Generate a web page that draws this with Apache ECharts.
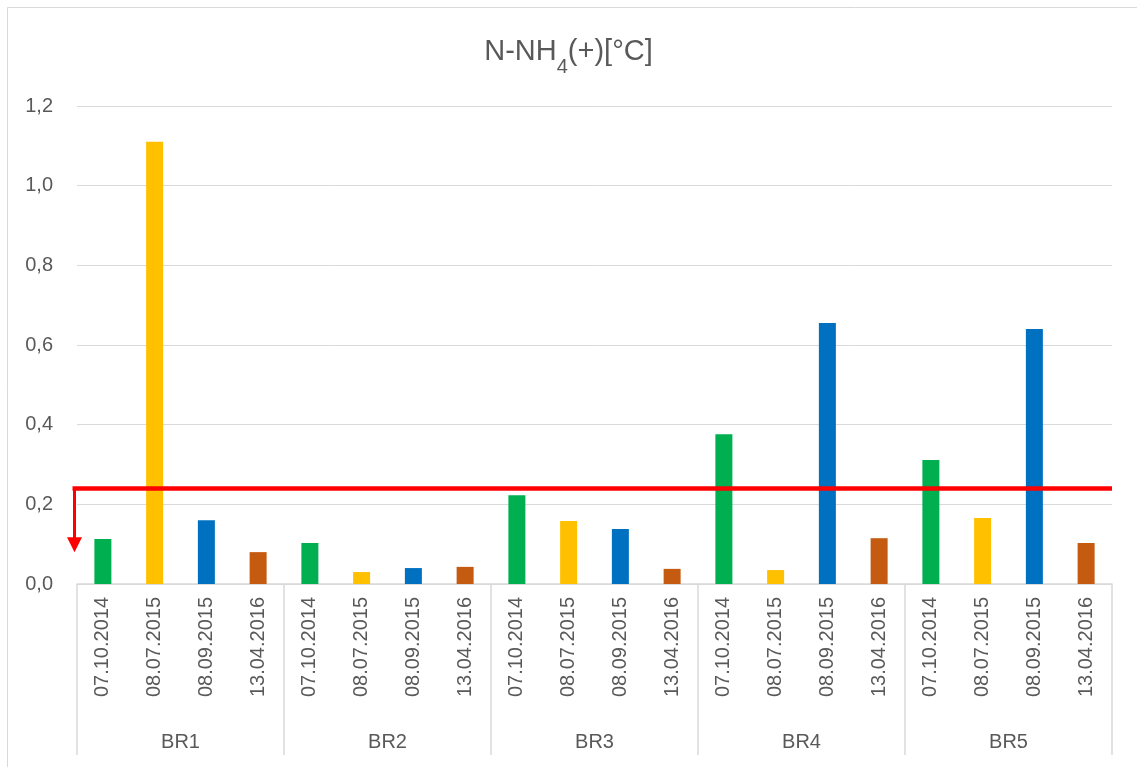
<!DOCTYPE html>
<html>
<head>
<meta charset="utf-8">
<script src="https://cdn.jsdelivr.net/npm/echarts@6/dist/echarts.min.js"></script>
<style>html,body{margin:0;padding:0;background:#fff}#c{width:1137px;height:767px}</style>
</head>
<body>
<div id="c"></div>
<script>
const groups = ['BR1', 'BR2', 'BR3', 'BR4', 'BR5'];
const dates = ['07.10.2014', '08.07.2015', '08.09.2015', '13.04.2016'];
const v20141007 = [0.113, 0.103, 0.223, 0.376, 0.311];
const v20150708 = [1.110, 0.030, 0.158, 0.035, 0.166];
const v20150908 = [0.160, 0.040, 0.138, 0.655, 0.640];
const v20160413 = [0.080, 0.043, 0.038, 0.115, 0.103];
const dateColors = ['#00B050', '#FFC000', '#0070C0', '#C55A11'];
const yTicks = [0, 0.2, 0.4, 0.6, 0.8, 1.0, 1.2];
const limitValue = 0.24;
const arrowTipValue = 0.08;

const seriesValues = [v20141007, v20150708, v20150908, v20160413];
const cats = [];
groups.forEach(g => dates.forEach(d => cats.push(d)));

const barSeries = seriesValues.map((vals, di) => {
  const data = [];
  groups.forEach((g, gi) => dates.forEach((d, dj) => data.push(dj === di ? vals[gi] : '-')));
  return {
    type: 'bar', name: dates[di], data: data, barWidth: 17, barGap: '-100%',
    itemStyle: { color: dateColors[di] }, xAxisIndex: 0, yAxisIndex: 0
  };
});

const chart = echarts.init(document.getElementById('c'), null, { renderer: 'canvas' });
const labelColor = '#595959';
const font = 'Liberation Sans, Arial, sans-serif';
chart.setOption({
  animation: false,
  backgroundColor: '#fff',
  graphic: [{
    type: 'rect', shape: { x: 7.5, y: 7.5, width: 1200, height: 800 },
    style: { fill: 'none', stroke: '#d9d9d9', lineWidth: 1 }, silent: true, z: -10
  }],
  title: {
    text: '{a|N-NH}{s|4}{a|(+)[°C]}',
    left: 'center', top: 32,
    textStyle: {
      fontWeight: 'normal',
      rich: {
        a: { fontSize: 29, fontWeight: 'normal', color: labelColor, fontFamily: font, lineHeight: 30, verticalAlign: 'top' },
        s: { fontSize: 20, fontWeight: 'normal', color: labelColor, fontFamily: font, lineHeight: 14, verticalAlign: 'top', padding: [20, 0, 0, 0] }
      }
    }
  },
  grid: { left: 77, right: 25, top: 106, bottom: 183, containLabel: false },
  xAxis: [{
    type: 'category', data: cats, position: 'bottom',
    axisLine: { show: true, lineStyle: { color: '#d9d9d9', width: 1.5 } },
    axisTick: { show: false },
    axisLabel: { rotate: 90, interval: 0, margin: 13, color: labelColor, fontSize: 20, fontFamily: font }
  }, {
    type: 'category', data: groups, position: 'bottom', offset: 0,
    axisLine: { show: false },
    axisTick: { show: true, length: 171, lineStyle: { color: '#d9d9d9', width: 1.5 } },
    axisLabel: { interval: 0, margin: 148, color: labelColor, fontSize: 20, fontFamily: font }
  }],
  yAxis: {
    type: 'value', min: yTicks[0], max: yTicks[yTicks.length - 1], interval: 0.2,
    axisLine: { show: false }, axisTick: { show: false },
    splitLine: { lineStyle: { color: '#d9d9d9', width: 1 } },
    axisLabel: {
      margin: 24, color: labelColor, fontSize: 20, fontFamily: font,
      formatter: v => v.toFixed(1).replace('.', ',')
    }
  },
  series: barSeries.concat([{
    type: 'custom', xAxisIndex: 0, yAxisIndex: 0, z: 10, silent: true,
    data: [[0, limitValue]],
    renderItem: function (params, api) {
      const cs = params.coordSys;
      const y = api.coord([0, limitValue])[1];
      const tip = api.coord([0, arrowTipValue])[1];
      const xl = cs.x - 2.5;
      const xr = cs.x + cs.width;
      return {
        type: 'group',
        children: [
          { type: 'line', shape: { x1: xl - 2, y1: y, x2: xr, y2: y }, style: { stroke: '#FF0000', lineWidth: 4.5 } },
          { type: 'line', shape: { x1: xl, y1: y, x2: xl, y2: tip - 14 }, style: { stroke: '#FF0000', lineWidth: 3 } },
          { type: 'polygon', shape: { points: [[xl - 7.5, tip - 15], [xl + 7.5, tip - 15], [xl, tip]] }, style: { fill: '#FF0000' } }
        ]
      };
    }
  }])
});
</script>
</body>
</html>
